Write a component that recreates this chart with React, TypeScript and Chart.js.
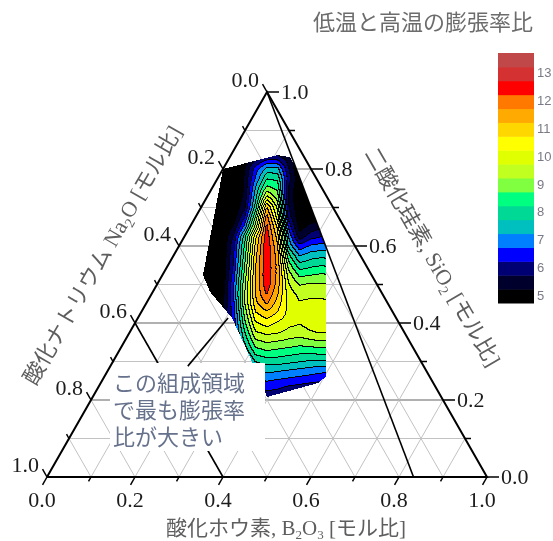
import React, { useEffect, useRef } from "react";
import { Chart, registerables } from "chart.js";

Chart.register(...registerables);

// ---------- axis data ----------
const axisTickValues = [0, 0.2, 0.4, 0.6, 0.8, 1.0];
const axisTickLabels = ["0.0", "0.2", "0.4", "0.6", "0.8", "1.0"];
const minorTickValues = [0.1, 0.3, 0.5, 0.7, 0.9];
const gridLevels = [0.1, 0.2, 0.3, 0.4, 0.5, 0.6, 0.7, 0.8, 0.9];

// ---------- measured composition region (B2O3, SiO2 mole fractions) ----------
const regionB2O3 = [0.0, 0.105, 0.137, 0.167, 0.333, 0.503, 0.494, 0.396, 0.305, 0.214, 0.13, 0.092];
const regionSiO2 = [0.8, 0.836, 0.831, 0.8, 0.6, 0.26, 0.244, 0.208, 0.312, 0.413, 0.481, 0.525];

// ---------- expansion ratio grid: rows = SiO2, columns = (B2O3 - Na2O) ----------
const gridSiO2 = [0.85, 0.825, 0.8, 0.775, 0.75, 0.725, 0.7, 0.675, 0.65, 0.625, 0.6, 0.575, 0.55, 0.525,
  0.5, 0.475, 0.45, 0.425, 0.4, 0.375, 0.35, 0.325, 0.3, 0.275, 0.25, 0.225, 0.2];
const gridB2O3MinusNa2O = [-0.3, -0.25, -0.2, -0.15, -0.1, -0.05, 0, 0.05, 0.1, 0.15, 0.2, 0.25, 0.3];
const expansionRatio = [
  [4.5, 4.5, 4.5, 4.5, 4.6, 5.0, 5.3, 5.3, 5.0, 4.6, 4.5, 4.5, 4.5],
  [4.5, 4.5, 4.5, 4.5, 4.9, 5.6, 6.1, 6.1, 5.5, 4.8, 4.5, 4.5, 4.5],
  [4.5, 4.5, 4.5, 4.7, 5.2, 6.5, 7.4, 7.4, 5.8, 4.7, 4.5, 4.5, 4.5],
  [4.5, 4.5, 4.5, 4.7, 5.3, 6.8, 8.2, 8.1, 6.0, 4.8, 4.5, 4.5, 4.5],
  [4.5, 4.5, 4.5, 4.7, 5.3, 7.3, 8.9, 8.6, 5.7, 4.8, 4.5, 4.5, 4.5],
  [4.5, 4.5, 4.5, 4.7, 5.4, 7.6, 10.0, 9.0, 5.6, 4.8, 4.7, 4.5, 4.5],
  [4.5, 4.5, 4.6, 4.8, 5.6, 8.0, 11.3, 9.6, 5.8, 4.8, 4.8, 4.6, 4.5],
  [4.5, 4.5, 4.6, 4.9, 6.2, 8.8, 12.0, 10.0, 6.0, 4.9, 4.9, 4.8, 4.6],
  [4.5, 4.5, 4.6, 5.3, 6.9, 9.5, 12.4, 10.6, 6.6, 5.0, 5.4, 5.6, 5.5],
  [4.5, 4.5, 4.7, 5.8, 8.0, 10.6, 12.6, 11.0, 7.2, 5.4, 6.0, 6.2, 6.1],
  [4.5, 4.5, 4.8, 6.1, 8.3, 10.9, 12.7, 11.3, 7.6, 6.4, 6.8, 6.9, 6.8],
  [4.5, 4.5, 4.8, 6.2, 8.5, 11.1, 12.7, 11.5, 8.4, 7.2, 7.5, 7.6, 7.5],
  [4.5, 4.5, 4.8, 6.3, 8.7, 11.2, 12.7, 11.6, 9.0, 7.9, 8.1, 8.2, 8.1],
  [4.5, 4.5, 4.8, 6.5, 8.9, 11.3, 12.7, 11.6, 9.5, 8.6, 8.7, 8.8, 8.7],
  [4.5, 4.6, 4.9, 6.7, 9.1, 11.3, 12.6, 11.5, 9.8, 9.2, 9.3, 9.3, 9.2],
  [4.5, 4.7, 5.0, 6.8, 9.2, 11.3, 12.3, 11.3, 10.0, 9.6, 9.6, 9.6, 9.5],
  [4.5, 4.8, 5.1, 6.6, 9.2, 11.1, 11.8, 11.0, 10.1, 9.8, 9.9, 9.9, 9.8],
  [4.6, 5.0, 5.3, 6.5, 8.9, 10.7, 11.1, 10.7, 10.1, 9.9, 10.0, 10.0, 9.9],
  [4.8, 5.2, 5.5, 6.4, 8.6, 10.2, 10.5, 10.2, 9.9, 9.8, 10.0, 10.0, 9.9],
  [5.0, 5.3, 5.6, 6.3, 8.2, 9.7, 9.9, 9.8, 9.6, 9.5, 9.7, 9.8, 9.7],
  [5.0, 5.4, 5.7, 6.1, 7.8, 9.1, 9.3, 9.2, 9.1, 9.0, 9.1, 9.2, 9.1],
  [5.0, 5.4, 5.7, 5.9, 7.3, 8.5, 8.7, 8.6, 8.5, 8.4, 8.4, 8.5, 8.4],
  [5.0, 5.4, 5.6, 5.8, 6.8, 7.8, 8.0, 8.0, 7.9, 7.8, 7.7, 7.7, 7.6],
  [5.0, 5.3, 5.5, 5.7, 6.4, 7.2, 7.4, 7.3, 7.2, 7.1, 7.0, 6.9, 6.8],
  [5.0, 5.2, 5.4, 5.6, 6.0, 6.6, 6.8, 6.7, 6.6, 6.5, 6.4, 6.3, 6.2],
  [5.0, 5.1, 5.3, 5.5, 5.8, 6.1, 6.3, 6.2, 6.0, 5.9, 5.8, 5.8, 5.7],
  [5.0, 5.0, 5.2, 5.3, 5.5, 5.7, 5.8, 5.6, 5.5, 5.4, 5.4, 5.4, 5.3],
];

// ---------- contour levels / colour scale ----------
const contourLevels = [5.25, 5.75, 6.25, 6.75, 7.25, 7.75, 8.25, 8.75, 9.25, 9.75, 10.25, 10.75, 11.25, 11.75, 12.25, 12.75, 13.25];
const bandColors = [
  "#000000", "#00002c", "#000072", "#0000ff", "#0080ff", "#00bfbf", "#00d896", "#00ff80", "#80ff40",
  "#c0ff20", "#e0ff00", "#ffff00", "#ffd700", "#ffaa00", "#ff7800", "#ff0000", "#d43232", "#c04848",
];
const colorbarLabelValues = [5, 6, 7, 8, 9, 10, 11, 12, 13];

// ---------- reference lines ----------
const na2oLineValue = 0.6;
const ratioLineEndB2O3 = 0.833;
const arrowStart = [0.176, 0.288];
const arrowEnd = [0.205, 0.413];

// ---------- texts ----------
const titleText = "低温と高温の膨張率比";
const noteLines = ["この組成領域", "で最も膨張率", "比が大きい"];

const pt = (b: number, s: number) => ({ x: b + s / 2, y: s });

function bandOf(v: number) {
  let k = 0;
  while (k < contourLevels.length && v >= contourLevels[k]) k++;
  return k;
}

function fieldAt(b: number, s: number) {
  const na = 1 - b - s;
  const d = b - na;
  const nr = gridSiO2.length;
  const nc = gridB2O3MinusNa2O.length;
  let r = (gridSiO2[0] - s) / (gridSiO2[0] - gridSiO2[1]);
  let c = (d - gridB2O3MinusNa2O[0]) / (gridB2O3MinusNa2O[1] - gridB2O3MinusNa2O[0]);
  r = Math.max(0, Math.min(nr - 1.0001, r));
  c = Math.max(0, Math.min(nc - 1.0001, c));
  const r0 = Math.floor(r), c0 = Math.floor(c);
  const fr = r - r0, fc = c - c0;
  const a = expansionRatio[r0][c0], bb = expansionRatio[r0][c0 + 1];
  const cc = expansionRatio[r0 + 1][c0], dd = expansionRatio[r0 + 1][c0 + 1];
  return a * (1 - fr) * (1 - fc) + bb * (1 - fr) * fc + cc * fr * (1 - fc) + dd * fr * fc;
}

function hexRgb(h: string) {
  return [parseInt(h.slice(1, 3), 16), parseInt(h.slice(3, 5), 16), parseInt(h.slice(5, 7), 16)];
}

function inPoly(x: number, y: number, poly: number[][]) {
  let inside = false;
  for (let i = 0, j = poly.length - 1; i < poly.length; j = i++) {
    const xi = poly[i][0], yi = poly[i][1], xj = poly[j][0], yj = poly[j][1];
    if ((yi > y) !== (yj > y) && x < ((xj - xi) * (y - yi)) / (yj - yi) + xi) inside = !inside;
  }
  return inside;
}

type Seg = { t: string; sub?: boolean };

function drawRich(ctx: CanvasRenderingContext2D, segs: Seg[], cx: number, cy: number, angle: number, size: number, color: string) {
  const main = `${size}px 'Liberation Serif', 'Noto Sans CJK JP', serif`;
  const sub = `${Math.round(size * 0.62)}px 'Liberation Serif', serif`;
  ctx.save();
  ctx.translate(cx, cy);
  ctx.rotate(angle);
  ctx.fillStyle = color;
  ctx.textBaseline = "middle";
  ctx.textAlign = "left";
  let total = 0;
  const widths = segs.map((s) => {
    ctx.font = s.sub ? sub : main;
    const w = ctx.measureText(s.t).width;
    total += w;
    return w;
  });
  let x = -total / 2;
  segs.forEach((s, i) => {
    ctx.font = s.sub ? sub : main;
    ctx.fillText(s.t, x, s.sub ? size * 0.3 : 0);
    x += widths[i];
  });
  ctx.restore();
}

const ternaryPlugin = {
  id: "ternaryDecor",
  beforeDatasetsDraw(chart: any) {
    const ctx: CanvasRenderingContext2D = chart.ctx;
    const xs = chart.scales.x, ys = chart.scales.y;
    const P = (b: number, s: number) => {
      const p = pt(b, s);
      return [xs.getPixelForValue(p.x), ys.getPixelForValue(p.y)];
    };
    // grid lines
    ctx.save();
    gridLevels.forEach((v) => {
      const major = Math.round(v * 10) % 2 === 0;
      ctx.strokeStyle = "#c2c2c2";
      ctx.lineWidth = 1;
      let a = P(v, 0), b = P(v, 1 - v);
      ctx.beginPath(); ctx.moveTo(a[0], a[1]); ctx.lineTo(b[0], b[1]); ctx.stroke();
      a = P(0, 1 - v); b = P(1 - v, 0);
      ctx.beginPath(); ctx.moveTo(a[0], a[1]); ctx.lineTo(b[0], b[1]); ctx.stroke();
      ctx.strokeStyle = major ? "#969696" : "#c2c2c2";
      ctx.lineWidth = major ? 1.6 : 1;
      a = P(0, v); b = P(1 - v, v);
      ctx.beginPath(); ctx.moveTo(a[0], a[1]); ctx.lineTo(b[0], b[1]); ctx.stroke();
    });
    ctx.restore();

    // filled contour
    const poly = regionB2O3.map((b, i) => P(b, regionSiO2[i]));
    let minX = Infinity, maxX = -Infinity, minY = Infinity, maxY = -Infinity;
    poly.forEach((p) => {
      minX = Math.min(minX, p[0]); maxX = Math.max(maxX, p[0]);
      minY = Math.min(minY, p[1]); maxY = Math.max(maxY, p[1]);
    });
    minX = Math.floor(minX); minY = Math.floor(minY); maxX = Math.ceil(maxX); maxY = Math.ceil(maxY);
    const w = maxX - minX + 1, h = maxY - minY + 1;
    const bands = new Int16Array(w * h).fill(-1);
    for (let j = 0; j < h; j++) {
      for (let i = 0; i < w; i++) {
        const px = minX + i + 0.5, py = minY + j + 0.5;
        if (!inPoly(px, py, poly)) continue;
        const X = xs.getValueForPixel(px), Y = ys.getValueForPixel(py);
        const s = Y, b = X - Y / 2;
        bands[j * w + i] = bandOf(fieldAt(b, s));
      }
    }
    const rgb = bandColors.map(hexRgb);
    const off = document.createElement("canvas");
    off.width = w; off.height = h;
    const octx = off.getContext("2d")!;
    const img = octx.createImageData(w, h);
    for (let j = 0; j < h; j++) {
      for (let i = 0; i < w; i++) {
        const k = bands[j * w + i];
        if (k < 0) continue;
        let col = rgb[k];
        const rN = i + 1 < w ? bands[j * w + i + 1] : -1;
        const dN = j + 1 < h ? bands[(j + 1) * w + i] : -1;
        if ((rN >= 0 && rN !== k) || (dN >= 0 && dN !== k)) col = [0, 0, 0];
        const o = (j * w + i) * 4;
        img.data[o] = col[0]; img.data[o + 1] = col[1]; img.data[o + 2] = col[2]; img.data[o + 3] = 255;
      }
    }
    octx.putImageData(img, 0, 0);
    ctx.drawImage(off, minX, minY);
  },
  beforeDatasetDraw(chart: any, args: any) {
    if (args.index !== 0) return;
    const ctx: CanvasRenderingContext2D = chart.ctx;
    ctx.save();
    ctx.fillStyle = "#ffffff";
    ctx.fillRect(110, 363, 155, 88);
    ctx.restore();
  },
  afterDatasetsDraw(chart: any) {
    const ctx: CanvasRenderingContext2D = chart.ctx;
    const xs = chart.scales.x, ys = chart.scales.y;
    const P = (b: number, s: number) => {
      const p = pt(b, s);
      return [xs.getPixelForValue(p.x), ys.getPixelForValue(p.y)];
    };
    const apex = P(0, 1), bl = P(0, 0), br = P(1, 0);
    const unit = (a: number[], b: number[]) => {
      const dx = b[0] - a[0], dy = b[1] - a[1];
      const l = Math.hypot(dx, dy);
      return [dx / l, dy / l];
    };
    const leftDir = unit(br, apex);
    const bottomDir = unit(apex, bl);
    ctx.save();
    ctx.strokeStyle = "#000";
    ctx.lineWidth = 1.5;
    const tick = (p: number[], d: number[], len: number) => {
      ctx.beginPath(); ctx.moveTo(p[0], p[1]); ctx.lineTo(p[0] + d[0] * len, p[1] + d[1] * len); ctx.stroke();
    };
    const all = axisTickValues.map((v) => ({ v, major: true })).concat(minorTickValues.map((v) => ({ v, major: false })));
    all.forEach(({ v, major }) => {
      tick(P(1 - v, v), [1, 0], major ? 12 : 6);
      tick(P(0, 1 - v), leftDir, major ? 9 : 5);
      tick(P(v, 0), bottomDir, major ? 9 : 5);
    });
    ctx.fillStyle = "#1c1c1c";
    ctx.font = "22px 'Liberation Serif', serif";
    axisTickValues.forEach((v, i) => {
      const lab = axisTickLabels[i];
      const r = P(1 - v, v);
      ctx.textAlign = "left"; ctx.textBaseline = "middle";
      ctx.fillText(lab, r[0] + 14, r[1] + 1);
      const l = P(0, 1 - v);
      ctx.textAlign = "right"; ctx.textBaseline = "alphabetic";
      ctx.fillText(lab, l[0] - 8, l[1] - 5);
      const b = P(v, 0);
      ctx.textAlign = "center"; ctx.textBaseline = "alphabetic";
      ctx.fillText(lab, b[0] - 5, b[1] + 30);
    });
    ctx.restore();

    const gray = "#5e5e5e";
    drawRich(ctx, [{ t: "酸化ナトリウム Na" }, { t: "2", sub: true }, { t: "O [モル比]" }], 104, 256, -Math.PI / 3, 22, gray);
    drawRich(ctx, [{ t: "二酸化珪素, SiO" }, { t: "2", sub: true }, { t: " [モル比]" }], 431, 258, Math.PI / 3, 22, gray);
    drawRich(ctx, [{ t: "酸化ホウ素, B" }, { t: "2", sub: true }, { t: "O" }, { t: "3", sub: true }, { t: " [モル比]" }], 286, 529, 0, 21, gray);

    ctx.save();
    ctx.fillStyle = "#66718c";
    ctx.font = "22px 'Noto Sans CJK JP', sans-serif";
    ctx.textAlign = "left";
    ctx.textBaseline = "middle";
    noteLines.forEach((t, i) => ctx.fillText(t, 113, 383 + i * 27));
    ctx.restore();
  },
  afterDraw(chart: any) {
    const ctx: CanvasRenderingContext2D = chart.ctx;
    ctx.save();
    ctx.fillStyle = "#6c6c6c";
    ctx.font = "22px 'Noto Sans CJK JP', sans-serif";
    ctx.textAlign = "center";
    ctx.textBaseline = "middle";
    ctx.fillText(titleText, 423, 22);
    const cbx = 498, cby = 53, cbw = 36, cbh = 250;
    const n = bandColors.length;
    const bh = cbh / n;
    bandColors.forEach((c, i) => {
      ctx.fillStyle = c;
      ctx.fillRect(cbx, cby + cbh - (i + 1) * bh, cbw, bh + 0.5);
    });
    ctx.fillStyle = "#7a7a86";
    ctx.font = "13px 'Liberation Sans', sans-serif";
    ctx.textAlign = "left";
    colorbarLabelValues.forEach((v) => {
      const k = bandOf(v);
      ctx.fillText(String(v), cbx + cbw + 3, cby + cbh - (k + 0.5) * bh);
    });
    ctx.restore();
  },
};

export default function App() {
  const ref = useRef<HTMLCanvasElement>(null);
  useEffect(() => {
    const canvas = ref.current;
    if (!canvas) return;
    const lineDs = (label: string, data: any[], width: number, order: number) => ({
      label, data, showLine: true, borderColor: "#000", backgroundColor: "#000",
      borderWidth: width, pointRadius: 0, pointHoverRadius: 0, tension: 0, fill: false, clip: false, order,
    });
    const chart = new Chart(canvas, {
      type: "scatter",
      data: {
        datasets: [
          lineDs("frame", [pt(0, 0), pt(1, 0), pt(0, 1), pt(0, 0)], 2, 1),
          lineDs("Na2O = 0.6", [pt(0, 1 - na2oLineValue), pt(1 - na2oLineValue, 0)], 1.6, 3),
          lineDs("ratio line", [pt(0, 1), pt(ratioLineEndB2O3, 0)], 1.6, 3),
          lineDs("arrow", [pt(arrowStart[0], arrowStart[1]), pt(arrowEnd[0], arrowEnd[1])], 1.6, 0),
        ],
      },
      options: {
        responsive: false,
        animation: false,
        devicePixelRatio: 1,
        events: [],
        layout: { padding: { left: 47, right: 66, top: 92, bottom: 64 } },
        scales: {
          x: { type: "linear", min: 0, max: 1, display: false },
          y: { type: "linear", min: 0, max: 1, display: false },
        },
        plugins: { legend: { display: false }, tooltip: { enabled: false }, title: { display: false } },
      },
      plugins: [ternaryPlugin],
    } as any);
    return () => chart.destroy();
  }, []);
  return (
    <div style={{ position: "absolute", left: 0, top: 0, width: 553, height: 541, background: "#fff" }}>
      <canvas ref={ref} width={553} height={541} style={{ display: "block", width: 553, height: 541 }} />
    </div>
  );
}
